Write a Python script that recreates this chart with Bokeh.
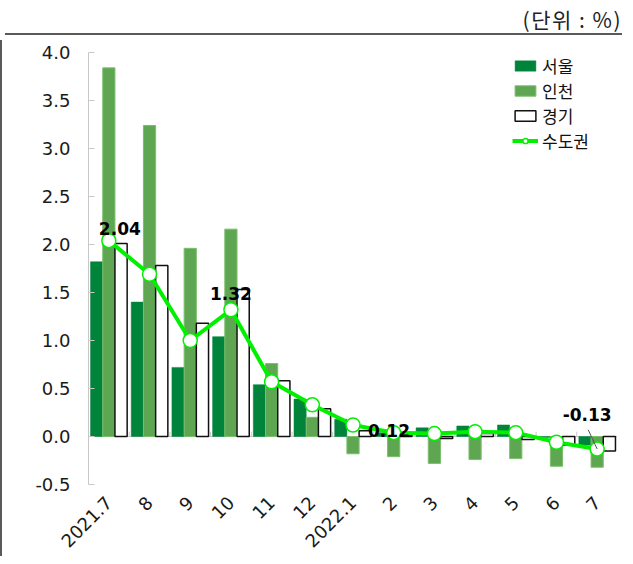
import math
from bokeh.plotting import figure
from bokeh.models import (ColumnDataSource, FixedTicker, PrintfTickFormatter, Range1d,
                          Legend, LegendItem, Span, Div)
from bokeh.transform import dodge
from bokeh.layouts import column
from bokeh.core.properties import value
from bokeh.embed import file_html
from bokeh.resources import INLINE

# ---- data ----
categories = ["2021.7", "8", "9", "10", "11", "12", "2022.1", "2", "3", "4", "5", "6", "7"]
seoul = [1.82, 1.40, 0.72, 1.04, 0.54, 0.39, 0.18, 0.04, 0.09, 0.11, 0.12, -0.01, -0.09]
incheon = [3.84, 3.24, 1.96, 2.16, 0.76, 0.20, -0.18, -0.21, -0.28, -0.24, -0.23, -0.31, -0.32]
gyeonggi = [2.01, 1.78, 1.18, 1.53, 0.58, 0.29, 0.06, 0.01, -0.02, 0.03, -0.03, -0.09, -0.15]
metro = [2.04, 1.69, 1.00, 1.32, 0.57, 0.33, 0.12, 0.04, 0.03, 0.05, 0.04, -0.06, -0.13]
series_names = ["서울", "인천", "경기", "수도권"]
y_ticks = [-0.5, 0.0, 0.5, 1.0, 1.5, 2.0, 2.5, 3.0, 3.5, 4.0]
label_idx = [0, 3, 6, 12]

# ---- styles ----
label_dx = [11, 0, 36, -10]
label_dy = [-6, -10, 12, -28]
C_SEOUL = "#00843C"
C_INCHEON = "#5FA653"
C_LINE = "#00F000"
FONT = "Noto Sans CJK KR"
NUMFONT = "DejaVu Sans"
BORDER = "#5a5a5a"

xs = list(range(len(categories)))
src = ColumnDataSource(dict(x=xs, seoul=seoul, incheon=incheon, gyeonggi=gyeonggi, metro=metro))

p = figure(width=617, height=528, output_backend="svg", toolbar_location=None,
           x_range=Range1d(-0.5, len(categories) - 0.5), y_range=Range1d(-0.5, 4.0),
           min_border_left=88, min_border_right=0, min_border_top=24, min_border_bottom=69,
           background_fill_color="white", border_fill_alpha=0)
p.styles = {"margin-top": "-12px",
            "background": "linear-gradient(%s, %s) 0px 12px / 2px 100%% no-repeat" % (BORDER, BORDER)}
p.outline_line_color = None
p.xgrid.visible = False
p.ygrid.visible = False

# baseline + separator ticks
p.add_layout(Span(location=0, dimension="width", line_color="#c8c8c8", line_width=1, level="underlay"))
sep_x = [i - 0.5 for i in range(len(categories) + 1)]
p.segment(x0=sep_x, y0=[0] * len(sep_x), x1=sep_x, y1=[0.05] * len(sep_x),
          line_color="#c8c8c8", line_width=1, level="underlay")

w = 0.3
r1 = p.vbar(x=dodge("x", -w, range=p.x_range), top="seoul", width=w, source=src,
            fill_color=C_SEOUL, line_color=C_SEOUL, line_width=0.5)
r2 = p.vbar(x=dodge("x", 0, range=p.x_range), top="incheon", width=w, source=src,
            fill_color=C_INCHEON, line_color="#7ABF6C", line_width=1)
r3 = p.vbar(x=dodge("x", w, range=p.x_range), top="gyeonggi", width=w, source=src,
            fill_color="white", line_color="#111111", line_width=1.5)
r4 = p.line(x="x", y="metro", source=src, line_color=C_LINE, line_width=4)
r5 = p.scatter(x="x", y="metro", source=src, size=14, marker="circle",
               fill_color="white", line_color=C_LINE, line_width=1.5)

# leader line for last label
li = label_idx[-1]
p.segment(x0=[li - 0.22], y0=[metro[li] + 0.2], x1=[li], y1=[metro[li]],
          line_color="#555555", line_width=1)

lab_src = ColumnDataSource(dict(
    x=[xs[i] for i in label_idx], y=[metro[i] for i in label_idx],
    t=["%.2f" % metro[i] for i in label_idx], dx=label_dx, dy=label_dy))
p.text(x="x", y="y", text="t", source=lab_src, x_offset="dx", y_offset="dy",
       text_align="center", text_baseline="bottom", text_font=value(NUMFONT),
       text_font_size="17px", text_font_style="bold", text_color="#000000")

# axes
ya = p.yaxis[0]
ya.ticker = FixedTicker(ticks=y_ticks)
ya.formatter = PrintfTickFormatter(format="%.1f")
ya.axis_line_color = "#c8c8c8"
ya.major_tick_line_color = "#c8c8c8"
ya.major_tick_in = 6
ya.major_tick_out = 0
ya.minor_tick_line_color = None
ya.major_label_standoff = 18
ya.major_label_text_font = NUMFONT
ya.major_label_text_font_size = "18px"
ya.major_label_text_color = "#1a1a1a"

xa = p.xaxis[0]
xa.ticker = FixedTicker(ticks=xs)
xa.major_label_overrides = {i: c for i, c in zip(xs, categories)}
xa.axis_line_color = None
xa.major_tick_line_color = None
xa.minor_tick_line_color = None
xa.major_label_orientation = math.pi / 4
xa.major_label_standoff = 9
xa.major_label_text_font = NUMFONT
xa.major_label_text_font_size = "18px"
xa.major_label_text_color = "#1a1a1a"

legend = Legend(items=[
    LegendItem(label=series_names[0], renderers=[r1]),
    LegendItem(label=series_names[1], renderers=[r2]),
    LegendItem(label=series_names[2], renderers=[r3]),
    LegendItem(label=series_names[3], renderers=[r4, r5]),
], location=(424, 331))
legend.background_fill_alpha = 0
legend.border_line_color = None
legend.label_text_font = FONT
legend.label_text_font_size = "17px"
legend.label_text_color = "#111111"
legend.glyph_width = 26
legend.glyph_height = 13
legend.label_height = 20
legend.spacing = 0
legend.padding = 0
legend.margin = 0
legend.label_standoff = 4
p.add_layout(legend)

div = Div(text="(단위 : %)", width=617, height=30,
          styles={"text-align": "right", "font-size": "21px", "font-family": FONT,
                  "color": "#222", "letter-spacing": "1.5px", "line-height": "28px",
                  "border-bottom": "2px solid " + BORDER, "box-sizing": "border-box"})

layout = column(div, p, spacing=0)
open("out.html", "w").write(file_html(layout, INLINE))
